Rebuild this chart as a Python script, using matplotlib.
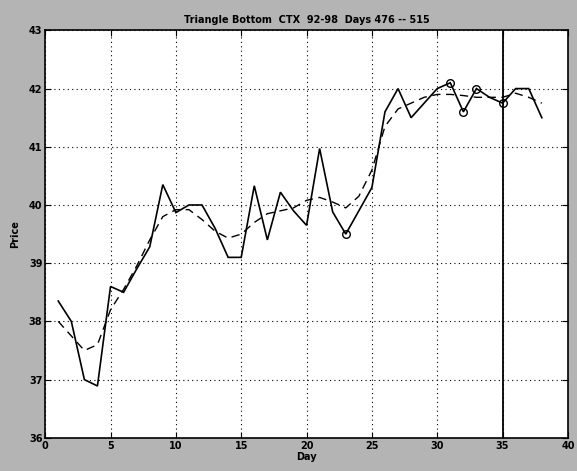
import matplotlib
matplotlib.use("Agg")
import matplotlib.pyplot as plt

days = list(range(1, 39))
price = [38.35, 38.0, 37.0, 36.89, 38.6, 38.5, 38.9, 39.28, 40.35, 39.87,
         40.0, 40.0, 39.6, 39.1, 39.1, 40.33, 39.4, 40.22, 39.9, 39.65,
         40.97, 39.88, 39.5, 39.9, 40.3, 41.6, 42.0, 41.5, 41.75, 42.0,
         42.1, 41.6, 42.0, 41.85, 41.75, 42.0, 42.0, 41.5]
smooth = [38.0, 37.75, 37.5, 37.6, 38.2, 38.55, 38.95, 39.4, 39.8, 39.92,
          39.92, 39.75, 39.55, 39.43, 39.5, 39.7, 39.85, 39.9, 39.95, 40.08,
          40.13, 40.05, 39.95, 40.15, 40.6, 41.35, 41.65, 41.75, 41.85, 41.9,
          41.9, 41.88, 41.85, 41.85, 41.85, 41.92, 41.85, 41.75]
marker_days = [23, 31, 32, 33, 35]
marker_price = [price[d - 1] for d in marker_days]
vline_day = 35
xticks = [0, 5, 10, 15, 20, 25, 30, 35, 40]
yticks = [36, 37, 38, 39, 40, 41, 42, 43]
title = "Triangle Bottom  CTX  92-98  Days 476 -- 515"

fig = plt.figure(figsize=(5.77, 4.71), dpi=100, facecolor="#b4b4b4")
ax = fig.add_axes([0.0783, 0.0705, 0.906, 0.865])
ax.set_facecolor("white")

ax.plot(days, price, color="black", lw=1.2, solid_joinstyle="miter")
ax.plot(days, smooth, color="black", lw=1.0, linestyle=(0, (6, 4)))
ax.plot(marker_days, marker_price, linestyle="none", marker="o", ms=5.5,
        mfc="none", mec="black", mew=1.0)
ax.axvline(vline_day, color="black", lw=1.3)

ax.set_xlim(0, 40)
ax.set_ylim(36, 43)
ax.set_xticks(xticks)
ax.set_yticks(yticks)
ax.set_xticklabels([str(t) for t in xticks], fontsize=7, fontweight="bold")
ax.set_yticklabels([str(t) for t in yticks], fontsize=7, fontweight="bold")
ax.grid(True, color="black", linestyle=(0, (1, 3)), lw=0.8)
ax.tick_params(direction="in", top=True, right=True, length=4, width=0.8, pad=2)
for s in ax.spines.values():
    s.set_linewidth(1.2)

ax.set_title(title, fontsize=7, fontweight="bold", pad=5)
ax.set_xlabel("Day", fontsize=7, fontweight="bold", labelpad=1)
ax.set_ylabel("Price", fontsize=7, fontweight="bold", labelpad=6)

fig.savefig("out.png", dpi=100, facecolor=fig.get_facecolor())
